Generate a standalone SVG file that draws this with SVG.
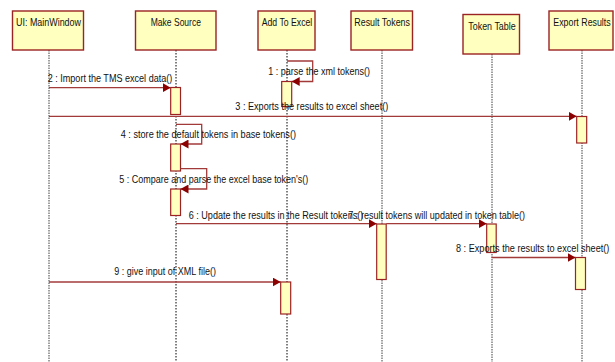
<svg xmlns="http://www.w3.org/2000/svg" width="615" height="362" viewBox="0 0 615 362">
<style>
.box{fill:#FFFFC0;stroke:#9B2323;stroke-width:1.4}
.act{fill:#FFFFC0;stroke:#9B2323;stroke-width:1.2}
.ll{fill:none;stroke:#000;stroke-width:1;stroke-dasharray:1.5,1.5}
.llg{fill:none;stroke:#808080;stroke-width:1.5;stroke-dasharray:1.5,1}
.msg{fill:none;stroke:#A33A3A;stroke-width:1.3}
.t{font-family:"Liberation Sans",Arial,sans-serif;font-size:10.5px;fill:#111}
.h{font-family:"Liberation Sans",Arial,sans-serif;font-size:10.5px;fill:#111}
</style>
<defs>
<marker id="ah" markerWidth="9" markerHeight="9" refX="8" refY="4.5" orient="auto" markerUnits="userSpaceOnUse">
<path d="M0,0 L8,4.5 L0,9 Z" fill="#8B0000"/>
</marker>
</defs>
<rect width="615" height="362" fill="#fff"/>

<g id="lifelines">
<line class="llg" x1="49" y1="50" x2="49" y2="362"/>
<line class="ll" x1="176" y1="50" x2="176" y2="362"/>
<line class="ll" x1="287" y1="50" x2="287" y2="362"/>
<line class="llg" x1="382" y1="50" x2="382" y2="362"/>
<line class="llg" x1="492" y1="54" x2="492" y2="362"/>
<line class="llg" x1="582" y1="50" x2="582" y2="362"/>
</g>

<g id="node-mainwindow">
<rect class="box" x="12.5" y="11" width="71" height="39"/>
<text class="h" x="16" y="26" textLength="65" lengthAdjust="spacingAndGlyphs">UI: MainWindow</text>
</g>
<g id="node-makesource">
<rect class="box" x="135.5" y="11" width="80.5" height="39"/>
<text class="h" x="150.7" y="26" textLength="50.3" lengthAdjust="spacingAndGlyphs">Make Source</text>
</g>
<g id="node-addtoexcel">
<rect class="box" x="258" y="11" width="57" height="39"/>
<text class="h" x="261.7" y="26" textLength="50.6" lengthAdjust="spacingAndGlyphs">Add To Excel</text>
</g>
<g id="node-resulttokens">
<rect class="box" x="351" y="11" width="61.5" height="39"/>
<text class="h" x="354.3" y="26" textLength="55.7" lengthAdjust="spacingAndGlyphs">Result Tokens</text>
</g>
<g id="node-tokentable">
<rect class="box" x="463" y="14.5" width="56.5" height="39.5"/>
<text class="h" x="468.3" y="30" textLength="47.4" lengthAdjust="spacingAndGlyphs">Token Table</text>
</g>
<g id="node-exportresults">
<rect class="box" x="549" y="11" width="64" height="39"/>
<text class="h" x="553.3" y="26" textLength="57.4" lengthAdjust="spacingAndGlyphs">Export Results</text>
</g>

<g id="activations">
<rect class="act" x="281.7" y="81.5" width="10" height="25"/>
<rect class="act" x="170.7" y="87.5" width="9.8" height="27"/>
<rect class="act" x="576.7" y="116.5" width="10" height="26.5"/>
<rect class="act" x="170.7" y="144" width="9.8" height="27"/>
<rect class="act" x="170.7" y="189" width="9.8" height="26.5"/>
<rect class="act" x="376.7" y="224" width="9.5" height="55.5"/>
<rect class="act" x="486.7" y="224" width="9.5" height="28.5"/>
<rect class="act" x="575.5" y="257.5" width="10" height="32"/>
<rect class="act" x="280.7" y="282" width="10" height="32"/>
</g>

<g id="connectors">
<polyline class="msg" points="287,61 312.7,61 312.7,81.5 291.7,81.5" marker-end="url(#ah)"/>
<line class="msg" x1="49" y1="87.7" x2="170.7" y2="87.7" marker-end="url(#ah)"/>
<line class="msg" x1="49" y1="116.3" x2="576.7" y2="116.3" marker-end="url(#ah)"/>
<polyline class="msg" points="176,124.3 201.7,124.3 201.7,144 180.5,144" marker-end="url(#ah)"/>
<polyline class="msg" points="180.5,168.7 206.7,168.7 206.7,189 180.5,189" marker-end="url(#ah)"/>
<line class="msg" x1="176" y1="223.7" x2="376.7" y2="223.7" marker-end="url(#ah)"/>
<line class="msg" x1="386.2" y1="223.7" x2="486.7" y2="223.7" marker-end="url(#ah)"/>
<line class="msg" x1="491.5" y1="257.5" x2="575.5" y2="257.5" marker-end="url(#ah)"/>
<line class="msg" x1="49" y1="282" x2="280.7" y2="282" marker-end="url(#ah)"/>
</g>

<g id="labels">
<text class="t" x="268.3" y="75" textLength="101.7" lengthAdjust="spacingAndGlyphs">1 : parse the xml tokens()</text>
<text class="t" x="47.7" y="81.7" textLength="124.6" lengthAdjust="spacingAndGlyphs">2 : Import the TMS excel data()</text>
<text class="t" x="235.3" y="110" textLength="153" lengthAdjust="spacingAndGlyphs">3 : Exports the results to excel sheet()</text>
<text class="t" x="120.7" y="138.3" textLength="175.3" lengthAdjust="spacingAndGlyphs">4 : store the default tokens in base tokens()</text>
<text class="t" x="119.3" y="183.3" textLength="189" lengthAdjust="spacingAndGlyphs">5 : Compare and parse the excel base token's()</text>
<text class="t" x="188.7" y="218.7" textLength="174.6" lengthAdjust="spacingAndGlyphs">6 : Update the results in the Result tokens()</text>
<text class="t" x="348.3" y="218.7" textLength="176.7" lengthAdjust="spacingAndGlyphs">7 : result tokens will updated in token table()</text>
<text class="t" x="456" y="251.5" textLength="153.4" lengthAdjust="spacingAndGlyphs">8 : Exports the results to excel sheet()</text>
<text class="t" x="114.3" y="275" textLength="101.7" lengthAdjust="spacingAndGlyphs">9 : give input of XML file()</text>
</g>
</svg>
